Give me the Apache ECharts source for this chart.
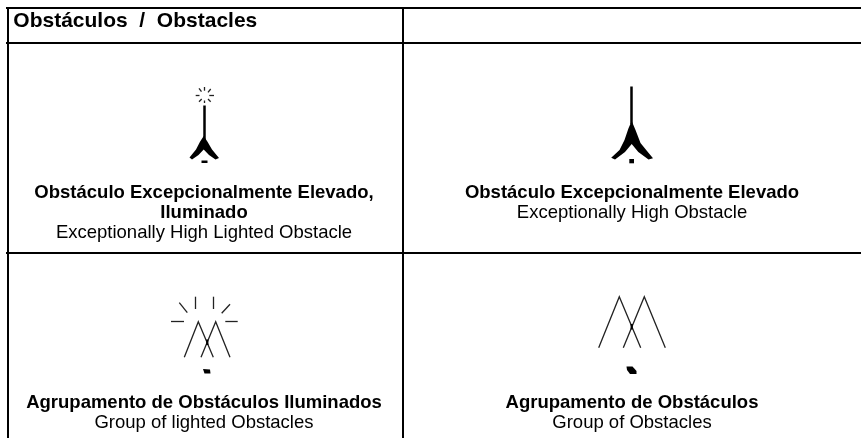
<!DOCTYPE html>
<html><head><meta charset="utf-8">
<style>html,body{margin:0;padding:0;background:#fff}#c{width:861px;height:438px}</style>
<script src="https://cdn.jsdelivr.net/npm/echarts@6/dist/echarts.min.js"></script>
</head><body><div id="c"></div>
<script>
var titleLabels = [['Obstáculos  /  Obstacles', 135.3, 21]];
var boldLabels = [
  ['Obstáculo Excepcionalmente Elevado,', 204, 193],
  ['Iluminado', 204, 213],
  ['Obstáculo Excepcionalmente Elevado', 632, 193],
  ['Agrupamento de Obstáculos Iluminados', 204, 403],
  ['Agrupamento de Obstáculos', 632, 403]
];
var plainLabels = [
  ['Exceptionally High Lighted Obstacle', 204, 233],
  ['Exceptionally High Obstacle', 632, 213],
  ['Group of lighted Obstacles', 204, 423],
  ['Group of Obstacles', 632, 423]
];
var tableRules = [
  [[6, 8], [861, 8]], [[6, 43], [861, 43]], [[6, 253], [861, 253]],
  [[7.5, 7], [7.5, 438]], [[402.5, 7], [402.5, 438]]
];
var masts = [
  [[203.8, 105.5], [203.8, 140]],
  [[631.7, 86.5], [631.7, 124]]
];
var rays = [
  [[203.8, 87], [203.8, 90.7]], [[199, 88.3], [201.5, 91.7]], [[210.7, 89], [208, 92.3]],
  [[195.7, 95.7], [199.5, 95.7]], [[209.3, 95.7], [214, 95.7]],
  [[199, 101.7], [201.7, 99]], [[210.7, 101.7], [208, 99]], [[203.8, 100.5], [203.8, 103]],
  [[195.7, 296.7], [195.7, 309]], [[213.7, 296.7], [213.7, 309]],
  [[179.3, 302.7], [187.3, 312.7]], [[230, 304.3], [221.7, 313.3]],
  [[171, 321.7], [184, 321.7]], [[225.3, 321.7], [237.7, 321.7]]
];
var peaks = [
  [[184.3, 357.3], [198.3, 321.7], [213.3, 357.3]],
  [[201, 357.3], [215.7, 321.7], [230, 357.3]],
  [[598.7, 347.7], [619.3, 296.7], [640.7, 347.7]],
  [[623.3, 347.7], [644.3, 296.7], [665.3, 347.7]]
];
var solids = [
  [[203.7,136],[207.5,141.7],[212,149.5],[219,158],[215.5,159.5],[209,155],[203.7,149.5],[198.5,155],[192,159.5],[189.5,157.5],[196,149.5],[200,141.7]],
  [[201.5,160.5],[207.5,160.5],[207.5,163],[201.5,163]],
  [[631.7,121],[635.5,130],[640.5,143],[647,151],[653,158.3],[648.5,159.5],[638.3,152],[631.7,144],[625,152],[615,159.5],[611.2,157.7],[619.5,150],[624.5,140],[628.5,128.3]],
  [[629.3,159],[634,159],[634,163.3],[629.3,163.3]],
  [[203,369],[210,369.5],[210.5,373.5],[204.5,373.5]],
  [[206.2,339.5],[208.4,339.5],[208.4,345],[206.2,345]],
  [[626.5,366.5],[632.5,366.5],[636.5,371],[636.5,374],[630,374],[627,370]],
  [[630.6,324],[632.8,324],[632.8,329.5],[630.6,329.5]]
];
var chart = echarts.init(document.getElementById('c'), null, {renderer: 'canvas'});
function toLines(arr) { return arr.map(function (p) { return {coords: p}; }); }
function textSeries(rows, weight, size) {
  return {
    type: 'scatter', symbolSize: 0, silent: true, itemStyle: {opacity: 1},
    data: rows.map(function (r) { return {value: [r[1], r[2]], name: r[0]}; }),
    label: {show: true, position: 'inside', formatter: '{b}', color: '#000', opacity: 1,
      fontFamily: 'Liberation Sans', fontWeight: weight, fontSize: size, align: 'center', verticalAlign: 'middle'}
  };
}
chart.setOption({
  animation: false,
  backgroundColor: '#fff',
  grid: {left: 0, right: 0, top: 0, bottom: 0},
  xAxis: {type: 'value', min: 0, max: 861, show: false},
  yAxis: {type: 'value', min: 0, max: 438, inverse: true, show: false},
  series: [
    {type: 'lines', coordinateSystem: 'cartesian2d', polyline: false, silent: true,
      lineStyle: {color: '#000', width: 2, opacity: 1}, data: toLines(tableRules)},
    {type: 'lines', coordinateSystem: 'cartesian2d', silent: true,
      lineStyle: {color: '#000', width: 2.5, opacity: 1}, data: toLines(masts)},
    {type: 'lines', coordinateSystem: 'cartesian2d', silent: true,
      lineStyle: {color: '#222', width: 1.3, opacity: 1}, data: toLines(rays)},
    {type: 'lines', coordinateSystem: 'cartesian2d', polyline: true, silent: true,
      lineStyle: {color: '#222', width: 1.3, opacity: 1}, data: toLines(peaks)},
    {type: 'custom', silent: true, data: solids.map(function (s, i) { return [i]; }),
      renderItem: function (params, api) {
        var pts = solids[api.value(0)].map(function (p) { return api.coord(p); });
        return {type: 'polygon', shape: {points: pts}, style: {fill: '#000'}};
      }},
    textSeries(titleLabels, 'bold', 21),
    textSeries(boldLabels, 'bold', 18.5),
    textSeries(plainLabels, 'normal', 18.5)
  ]
});
</script></body></html>
